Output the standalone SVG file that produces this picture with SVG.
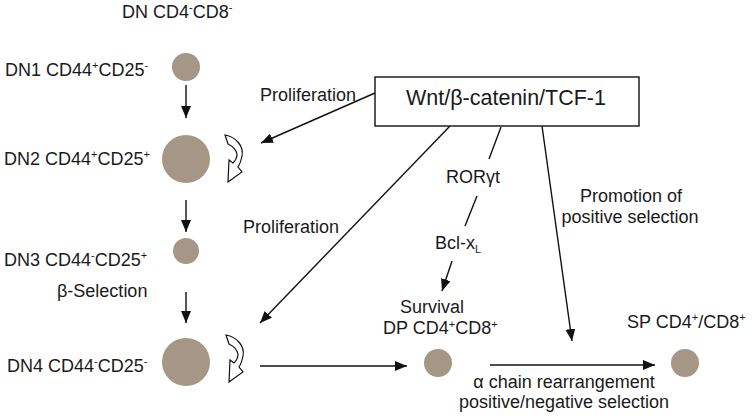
<svg xmlns="http://www.w3.org/2000/svg" width="752" height="419" viewBox="0 0 752 419">
<style>
text{font-family:"Liberation Sans",Arial,sans-serif;font-size:18px;fill:#1a1a1a}
.sup{font-size:11px}
.cell{fill:#a69686}
.ln{stroke:#111;stroke-width:1.4;fill:none}
.arr{marker-end:url(#ah)}
.curl{fill:#fff;stroke:#111;stroke-width:1.2;stroke-linejoin:miter}
</style>
<defs>
<marker id="ah" viewBox="0 0 12 10" refX="12" refY="5" markerWidth="12" markerHeight="10" orient="auto" markerUnits="userSpaceOnUse"><path d="M0,0 L12,5 L0,10 z" fill="#111"/></marker>
<path id="curlShape" d="M225,135 C236,137 244,146 242,156 C241,161 240,164 238,167 L242,172 L228,182 L229,160 L233,163 C236,160 237,157 237,154 C236,149 232,146 228,144 Z"/>
</defs>
<rect width="752" height="419" fill="#fff"/>

<g id="connectors">
<path class="ln arr" d="M186,85 L186,118"/>
<path class="ln arr" d="M186,200 L186,232"/>
<path class="ln arr" d="M186,292 L186,323"/>
<path class="ln arr" d="M375,93 L261,143"/>
<path class="ln arr" d="M450,126 L260,323"/>
<path class="ln arr" d="M260,366 L407,366"/>
<path class="ln arr" d="M490,365 L655,365"/>
<path class="ln" d="M501,127 L489,159"/>
<path class="ln" d="M477,196 L465,226"/>
<path class="ln arr" d="M452,261 L442,291"/>
<path class="ln arr" d="M542,126 L572,341"/>
<use href="#curlShape" class="curl"/>
<use href="#curlShape" class="curl" transform="translate(1,200)"/>
</g>

<g id="title-dn"><text x="122" y="18">DN CD4<tspan class="sup" dy="-7">-</tspan><tspan dy="7">CD8</tspan><tspan class="sup" dy="-7">-</tspan></text></g>

<g id="dn1"><circle class="cell" cx="186" cy="67" r="14"/><text x="5" y="76">DN1 CD44<tspan class="sup" dy="-7">+</tspan><tspan dy="7">CD25</tspan><tspan class="sup" dy="-7">-</tspan></text></g>
<g id="dn2"><circle class="cell" cx="186" cy="159" r="24"/><text x="4" y="165">DN2 CD44<tspan class="sup" dy="-7">+</tspan><tspan dy="7">CD25</tspan><tspan class="sup" dy="-7">+</tspan></text></g>
<g id="dn3"><circle class="cell" cx="186" cy="251" r="13"/><text x="4" y="266">DN3 CD44<tspan class="sup" dy="-7">-</tspan><tspan dy="7">CD25</tspan><tspan class="sup" dy="-7">+</tspan></text></g>
<g id="dn4"><circle class="cell" cx="186" cy="362" r="24"/><text x="7" y="372">DN4 CD44<tspan class="sup" dy="-7">-</tspan><tspan dy="7">CD25</tspan><tspan class="sup" dy="-7">-</tspan></text></g>

<g id="wnt"><rect x="375" y="77" width="264" height="49" fill="#fff" stroke="#111" stroke-width="1.4"/><text x="506" y="105" text-anchor="middle" style="font-size:21.5px">Wnt/β-catenin/TCF-1</text></g>

<g id="labels">
<text x="260" y="101">Proliferation</text>
<text x="243" y="233">Proliferation</text>
<text x="57" y="297">β-Selection</text>
<text x="446" y="183">RORγt</text>
<text x="435" y="249">Bcl-x<tspan class="sup" dy="4">L</tspan></text>
<text x="631" y="202" text-anchor="middle">Promotion of</text>
<text x="630" y="223" text-anchor="middle">positive selection</text>
<text x="564" y="388" text-anchor="middle">α chain rearrangement</text>
<text x="564" y="408" text-anchor="middle">positive/negative selection</text>
</g>

<g id="dp"><circle class="cell" cx="438" cy="363" r="14"/><text x="432" y="313" text-anchor="middle">Survival</text><text x="383" y="334">DP CD4<tspan class="sup" dy="-6">+</tspan><tspan dy="6">CD8</tspan><tspan class="sup" dy="-6">+</tspan></text></g>

<g id="sp"><circle class="cell" cx="685" cy="363" r="14"/><text x="627" y="328">SP CD4<tspan class="sup" dy="-7">+</tspan><tspan dy="7">/CD8</tspan><tspan class="sup" dy="-7">+</tspan></text></g>
</svg>
